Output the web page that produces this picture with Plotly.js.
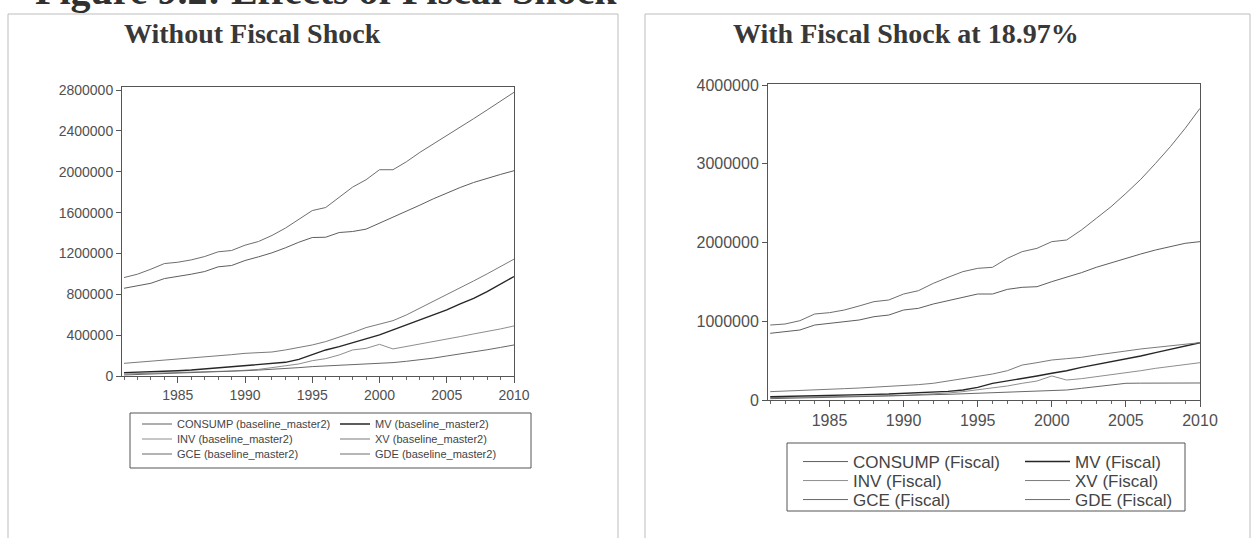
<!DOCTYPE html>
<html><head><meta charset="utf-8">
<script src="https://cdn.plot.ly/plotly-3.0.1.min.js"></script>
<style>html,body{margin:0;padding:0;background:#fff}#chart{width:1253px;height:538px}</style>
</head><body><div id="chart"></div>
<script>
const years = [1981,1982,1983,1984,1985,1986,1987,1988,1989,1990,1991,1992,1993,1994,1995,1996,1997,1998,1999,2000,2001,2002,2003,2004,2005,2006,2007,2008,2009,2010];

// Without fiscal shock (baseline_master2)
const consumpBase = [859000,882000,908000,954000,974000,997000,1023000,1069000,1082000,1131000,1167000,1206000,1255000,1310000,1356000,1359000,1405000,1415000,1438000,1497000,1552000,1608000,1673000,1735000,1791000,1846000,1895000,1938000,1974000,2010000];
const mvBase      = [33000,36000,39000,46000,52000,59000,69000,78000,92000,98000,108000,118000,134000,163000,206000,255000,288000,327000,363000,402000,451000,500000,549000,598000,647000,706000,761000,827000,899000,974000];
const invBase     = [20000,23000,26000,29000,33000,36000,39000,42000,49000,56000,65000,82000,98000,118000,150000,170000,206000,255000,271000,310000,265000,288000,314000,337000,359000,386000,412000,435000,461000,490000];
const xvBase      = [124000,134000,144000,154000,163000,176000,190000,199000,209000,222000,229000,235000,255000,278000,304000,337000,379000,425000,474000,507000,542000,598000,663000,729000,794000,859000,931000,1000000,1072000,1144000];
const gceBase     = [10000,14000,18000,22000,26000,31000,36000,41000,46000,52000,58000,64000,72000,82000,92000,98000,104000,110000,117000,124000,131000,144000,158000,175000,196000,215000,236000,257000,280000,304000];
const gdeBase     = [964000,997000,1046000,1101000,1114000,1137000,1170000,1216000,1229000,1281000,1317000,1376000,1448000,1536000,1620000,1650000,1748000,1850000,1922000,2020000,2020000,2098000,2190000,2271000,2353000,2435000,2520000,2605000,2690000,2778000];

// With fiscal shock at 18.97% (Fiscal)
const consumpFisc = [847000,868000,889000,952000,974000,995000,1016000,1058000,1079000,1143000,1164000,1219000,1261000,1312000,1346000,1346000,1405000,1431000,1439000,1503000,1558000,1617000,1685000,1744000,1799000,1854000,1905000,1947000,1990000,2011000];
const mvFisc      = [42000,45000,49000,53000,59000,63000,68000,72000,76000,85000,89000,97000,110000,127000,161000,212000,241000,275000,305000,339000,372000,415000,449000,487000,521000,559000,601000,643000,686000,728000];
const invFisc     = [30000,32000,35000,38000,42000,45000,48000,51000,55000,59000,68000,78000,89000,106000,127000,148000,178000,212000,241000,305000,254000,271000,296000,317000,347000,372000,402000,423000,449000,474000];
const xvFisc      = [106000,112000,119000,127000,135000,144000,152000,161000,169000,178000,195000,212000,241000,275000,296000,330000,372000,444000,474000,508000,525000,542000,571000,601000,622000,648000,669000,690000,711000,728000];
const gceFisc     = [17000,20000,24000,27000,34000,38000,42000,47000,51000,59000,64000,68000,72000,78000,85000,93000,100000,106000,112000,119000,127000,148000,169000,190000,212000,214000,215000,215000,216000,216000];
const gdeFisc     = [952000,965000,1007000,1092000,1109000,1143000,1194000,1249000,1270000,1346000,1388000,1481000,1558000,1630000,1672000,1685000,1799000,1884000,1926000,2011000,2032000,2159000,2307000,2455000,2624000,2802000,3005000,3217000,3450000,3704000];

const leftTitle = "Without Fiscal Shock";
const rightTitle = "With Fiscal Shock at 18.97%";
const figTitle = "Figure 9.2: Effects of Fiscal Shock";

const W = 1253, H = 538;
const px = v => v / W;
const py = v => 1 - v / H;

const styles = {
  CONSUMP: {color:'#5e5e5e', width:1},
  MV:      {color:'#262626', width:1.4},
  INV:     {color:'#8e8e8e', width:1},
  XV:      {color:'#7a7a7a', width:1},
  GCE:     {color:'#686868', width:1},
  GDE:     {color:'#6e6e6e', width:1}
};

// legend slots: [legend id, x of entry, row centre y, item width]
const slots = {
  'L-CONSUMP':['legend',  137, 424, 30], 'L-MV':['legend2', 335, 424, 30],
  'L-INV':    ['legend3', 137, 439, 30], 'L-XV':['legend4', 335, 439, 30],
  'L-GCE':    ['legend5', 137, 454, 30], 'L-GDE':['legend6', 335, 454, 30],
  'R-CONSUMP':['legend7', 798, 462, 45], 'R-MV':['legend8', 1020, 462, 45],
  'R-INV':    ['legend9', 798, 481, 45], 'R-XV':['legend10', 1020, 481, 45],
  'R-GCE':    ['legend11',798, 500, 45], 'R-GDE':['legend12', 1020, 500, 45]
};

function mk(name, suffix, y, xa, ya, side) {
  return {x: years, y: y, type:'scatter', mode:'lines', name: name + ' (' + suffix + ')',
          xaxis: xa, yaxis: ya, legend: slots[side + '-' + name][0], line: styles[name], hoverinfo:'x+y+name'};
}

const traces = [
  mk('CONSUMP','baseline_master2',consumpBase,'x','y','L'),
  mk('INV','baseline_master2',invBase,'x','y','L'),
  mk('GCE','baseline_master2',gceBase,'x','y','L'),
  mk('MV','baseline_master2',mvBase,'x','y','L'),
  mk('XV','baseline_master2',xvBase,'x','y','L'),
  mk('GDE','baseline_master2',gdeBase,'x','y','L'),
  mk('CONSUMP','Fiscal',consumpFisc,'x2','y2','R'),
  mk('INV','Fiscal',invFisc,'x2','y2','R'),
  mk('GCE','Fiscal',gceFisc,'x2','y2','R'),
  mk('MV','Fiscal',mvFisc,'x2','y2','R'),
  mk('XV','Fiscal',xvFisc,'x2','y2','R'),
  mk('GDE','Fiscal',gdeFisc,'x2','y2','R')
];

const axisFont = (s) => ({family:'Liberation Sans, Arial, sans-serif', size:s, color:'#505050'});
function xax(domain, anchor, fs) {
  return {domain: domain, anchor: anchor, range:[1980.85, 2010], tickmode:'linear', tick0:1985, dtick:5,
    ticks:'outside', ticklen:6, tickcolor:'#555', showline:true, mirror:true, linecolor:'#555', linewidth:1,
    showgrid:false, zeroline:false, tickfont: axisFont(fs), fixedrange:true,
    minor:{ticks:'outside', tick0:1981, dtick:1, ticklen:3, tickcolor:'#666', showgrid:false}};
}
function yax(domain, anchor, range, dtick, fs) {
  return {domain: domain, anchor: anchor, range: range, tickmode:'linear', tick0:0, dtick: dtick,
    tickformat:'d', ticks:'outside', ticklen:5, tickcolor:'#555', showline:true, mirror:true,
    linecolor:'#555', linewidth:1, showgrid:false, zeroline:false, tickfont: axisFont(fs), fixedrange:true};
}

const layout = {
  width: W, height: H, margin:{l:0,r:0,t:0,b:0}, paper_bgcolor:'#fff', plot_bgcolor:'#fff',
  showlegend:true,
  xaxis: xax([px(122), px(514)], 'y', 14),
  yaxis: yax([py(376), py(87)], 'x', [0, 2830000], 400000, 14),
  xaxis2: xax([px(768), px(1200)], 'y2', 16),
  yaxis2: yax([py(400), py(84)], 'x2', [0, 4013000], 1000000, 16),
  shapes: [
    {type:'rect', xref:'paper', yref:'paper', x0:px(8), x1:px(618), y0:py(560), y1:py(14), line:{color:'#bdbdbd', width:1}},
    {type:'rect', xref:'paper', yref:'paper', x0:px(645), x1:px(1250), y0:py(560), y1:py(14), line:{color:'#bdbdbd', width:1}},
    {type:'rect', xref:'paper', yref:'paper', x0:px(130), x1:px(531), y0:py(468), y1:py(413), line:{color:'#555', width:1}},
    {type:'rect', xref:'paper', yref:'paper', x0:px(787), x1:px(1185), y0:py(511), y1:py(443), line:{color:'#555', width:1}}
  ],
  annotations: [
    {text: leftTitle, xref:'paper', yref:'paper', x: px(252), y: py(33), xanchor:'center', yanchor:'middle', showarrow:false,
     font:{family:'Liberation Serif, Times New Roman, serif', size:28, color:'#383838', weight:'bold'}},
    {text: rightTitle, xref:'paper', yref:'paper', x: px(906), y: py(33), xanchor:'center', yanchor:'middle', showarrow:false,
     font:{family:'Liberation Serif, Times New Roman, serif', size:28, color:'#383838', weight:'bold'}},
    {text: figTitle, xref:'paper', yref:'paper', x: px(33), y: py(15), xanchor:'left', yanchor:'bottom', showarrow:false,
     font:{family:'Liberation Serif, Times New Roman, serif', size:40, color:'#303030', weight:'bold'}}
  ]
};

Object.keys(slots).forEach(k => {
  const [id, x, y, iw] = slots[k];
  const right = k.startsWith('R');
  layout[id] = {x: px(x), y: py(y), xanchor:'left', yanchor:'middle', orientation:'v',
    bgcolor:'rgba(0,0,0,0)', borderwidth:0, itemwidth: iw,
    font:{family:'Liberation Sans, Arial, sans-serif', size: right ? 17 : 11, color:'#444'},
    itemclick:false, itemdoubleclick:false};
});

Plotly.newPlot('chart', traces, layout, {displayModeBar:false, staticPlot:true});
</script>
</body></html>
